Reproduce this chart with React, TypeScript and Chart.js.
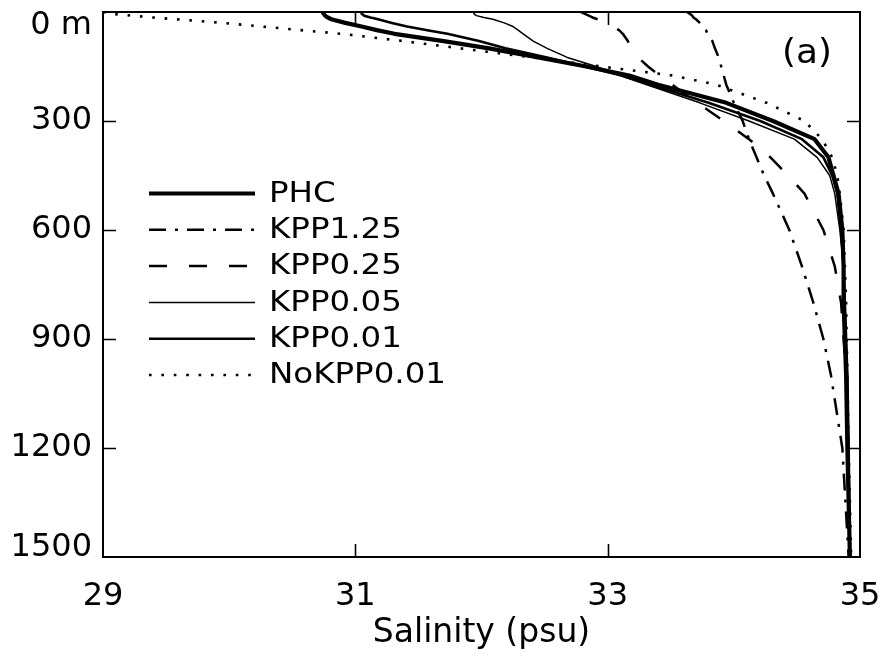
import React, { useEffect, useRef } from 'react';
import { Chart, registerables } from 'chart.js';

Chart.register(...registerables);

// ---- data (depth in m, salinity in psu) ----
const depths = [0, 5, 10, 15, 20, 30, 40, 50, 60, 80, 100, 125, 150, 175, 200, 250, 300, 350, 400, 450, 500, 600, 700, 800, 900, 1000, 1200, 1500];
const phc = [30.74, 30.75, 30.76, 30.78, 30.81, 30.92, 31.05, 31.17, 31.31, 31.70, 32.06, 32.45, 32.83, 33.17, 33.40, 33.94, 34.31, 34.64, 34.75, 34.79, 34.83, 34.86, 34.87, 34.87, 34.88, 34.89, 34.90, 34.92];
const kpp125 = [33.63, 33.65, 33.67, 33.68, 33.70, 33.73, 33.76, 33.78, 33.79, 33.83, 33.85, 33.88, 33.90, 33.92, 33.94, 34.00, 34.07, 34.12, 34.18, 34.24, 34.31, 34.44, 34.54, 34.63, 34.71, 34.77, 34.86, 34.91];
const kpp025 = [32.79, 32.82, 32.85, 32.88, 32.92, 33.00, 33.04, 33.09, 33.12, 33.16, 33.19, 33.24, 33.32, 33.41, 33.51, 33.71, 33.92, 34.12, 34.29, 34.43, 34.56, 34.71, 34.80, 34.85, 34.87, 34.89, 34.90, 34.92];
const kpp005 = [31.94, 31.94, 31.96, 32.02, 32.09, 32.18, 32.25, 32.29, 32.33, 32.41, 32.52, 32.68, 32.91, 33.10, 33.31, 33.73, 34.12, 34.48, 34.66, 34.76, 34.80, 34.84, 34.87, 34.88, 34.89, 34.90, 34.91, 34.92];
const kpp001 = [31.05, 31.05, 31.07, 31.12, 31.18, 31.29, 31.41, 31.57, 31.73, 31.98, 32.19, 32.52, 32.82, 33.11, 33.34, 33.80, 34.21, 34.54, 34.71, 34.78, 34.82, 34.85, 34.87, 34.88, 34.89, 34.90, 34.91, 34.92];
const nokpp001 = [29.0, 29.07, 29.23, 29.39, 29.58, 29.95, 30.26, 30.57, 30.89, 31.38, 31.83, 32.40, 32.95, 33.52, 33.86, 34.26, 34.56, 34.70, 34.78, 34.82, 34.84, 34.87, 34.88, 34.89, 34.895, 34.90, 34.91, 34.93];

const seriesLabels = ['PHC', 'KPP1.25', 'KPP0.25', 'KPP0.05', 'KPP0.01', 'NoKPP0.01'];
const seriesValues = [phc, kpp125, kpp025, kpp005, kpp001, nokpp001];
const xTicks = [29, 31, 33, 35];
const yTicks = [0, 300, 600, 900, 1200, 1500];
const xTitle = 'Salinity (psu)';
const panelLabel = '(a)';

// ---- styles ----
const lineStyles = [
  { width: 4.2, dash: [] as number[] },
  { width: 2.5, dash: [17, 9, 3, 9] },
  { width: 2.5, dash: [18, 22] },
  { width: 1.5, dash: [] as number[] },
  { width: 2.6, dash: [] as number[] },
  { width: 2.6, dash: [2.6, 9.8] },
];
const FONT = '"DejaVu Sans", "Liberation Sans", sans-serif';

const framePlugin = {
  id: 'frameAndLegend',
  afterDatasetsDraw(chart: any) {
    const { ctx, chartArea: a, scales } = chart;
    const xs = scales.x;
    const ys = scales.y;
    ctx.save();
    ctx.setLineDash([]);
    ctx.strokeStyle = '#000';
    ctx.lineWidth = 2;
    ctx.strokeRect(a.left, a.top, a.right - a.left, a.bottom - a.top);
    const L = 13;
    ctx.beginPath();
    yTicks.slice(1, -1).forEach((v) => {
      const py = Math.round(ys.getPixelForValue(v)) + 0.5;
      ctx.moveTo(a.left, py);
      ctx.lineTo(a.left + L, py);
      ctx.moveTo(a.right, py);
      ctx.lineTo(a.right - L, py);
    });
    xTicks.slice(1, -1).forEach((v) => {
      const px = Math.round(xs.getPixelForValue(v)) + 0.5;
      ctx.moveTo(px, a.bottom);
      ctx.lineTo(px, a.bottom - L);
      ctx.moveTo(px, a.top);
      ctx.lineTo(px, a.top + L);
    });
    ctx.lineWidth = 1.6;
    ctx.stroke();

    // legend inside plot
    const x0 = a.left + 46;
    const x1 = a.left + 152;
    const tx = a.left + 166;
    const row0 = a.top + 181.5;
    const step = 36.3;
    chart.data.datasets.forEach((ds: any, i: number) => {
      const yy = row0 + i * step;
      ctx.save();
      ctx.strokeStyle = '#000';
      ctx.lineWidth = ds.borderWidth;
      ctx.setLineDash(ds.borderDash || []);
      ctx.lineCap = 'butt';
      ctx.beginPath();
      ctx.moveTo(x0, yy);
      ctx.lineTo(x1, yy);
      ctx.stroke();
      ctx.restore();
      ctx.save();
      ctx.fillStyle = '#000';
      ctx.font = `28px ${FONT}`;
      ctx.textBaseline = 'middle';
      ctx.textAlign = 'left';
      ctx.translate(tx, yy + 1);
      ctx.scale(1.16, 1);
      ctx.fillText(ds.label, 0, 0);
      ctx.restore();
    });

    // panel label
    ctx.save();
    ctx.fillStyle = '#000';
    ctx.font = `32px ${FONT}`;
    ctx.textBaseline = 'middle';
    ctx.textAlign = 'center';
    ctx.translate(a.right - 53, a.top + 42);
    ctx.scale(1.12, 1.05);
    ctx.fillText(panelLabel, 0, 0);
    ctx.restore();
    ctx.restore();
  },
};

export default function App() {
  const ref = useRef<HTMLCanvasElement | null>(null);
  useEffect(() => {
    if (!ref.current) return;
    const chart = new Chart(ref.current, {
      type: 'scatter',
      data: {
        datasets: seriesLabels.map((label, i) => ({
          label,
          data: depths.map((d, j) => ({ x: seriesValues[i][j], y: d })),
          showLine: true,
          borderColor: '#000',
          backgroundColor: '#000',
          borderWidth: lineStyles[i].width,
          borderDash: lineStyles[i].dash,
          borderCapStyle: 'butt',
          borderJoinStyle: 'round',
          pointRadius: 0,
          pointHoverRadius: 0,
          tension: 0,
        })),
      },
      options: {
        responsive: false,
        maintainAspectRatio: false,
        animation: false,
        events: [],
        layout: { padding: { left: 0, top: 12, right: 21, bottom: 0 } },
        plugins: { legend: { display: false }, tooltip: { enabled: false } },
        scales: {
          x: {
            type: 'linear',
            position: 'bottom',
            min: 29,
            max: 35,
            afterBuildTicks: (s: any) => {
              s.ticks = xTicks.map((v) => ({ value: v }));
            },
            ticks: {
              color: '#000',
              padding: 20,
              maxRotation: 0,
              autoSkip: false,
              font: { family: FONT, size: 32, lineHeight: 1.2 },
              callback: (v: any) => String(v),
            },
            grid: { display: false, drawTicks: false },
            border: { display: false },
            title: {
              display: true,
              text: xTitle,
              color: '#000',
              font: { family: FONT, size: 33, lineHeight: 1.2 },
              padding: { top: 0, bottom: 4 },
            },
            afterFit: (s: any) => {
              s.height = 100;
              s.paddingLeft = 0;
              s.paddingRight = 0;
            },
          },
          y: {
            type: 'linear',
            min: 0,
            max: 1500,
            reverse: true,
            afterBuildTicks: (s: any) => {
              s.ticks = yTicks.map((v) => ({ value: v }));
            },
            ticks: {
              color: '#000',
              padding: 11,
              autoSkip: false,
              font: (c: any) => {
                const v = c && c.tick ? c.tick.value : null;
                const lh = v === 0 ? 0.875 : v === 1500 ? 0.5625 : 1.2;
                return { family: FONT, size: 32, lineHeight: lh };
              },
              callback: (v: any) => (v === 0 ? ['', '0 m'] : v === 1500 ? ['1500', ''] : String(v)),
            },
            grid: { display: false, drawTicks: false },
            border: { display: false },
            afterFit: (s: any) => {
              s.width = 103;
              s.paddingTop = 0;
              s.paddingBottom = 0;
            },
          },
        },
      },
      plugins: [framePlugin],
    } as any);
    return () => chart.destroy();
  }, []);

  return (
    <div style={{ position: 'absolute', left: 0, top: 0, width: 881, height: 657, background: '#fff' }}>
      <canvas ref={ref} width={881} height={657} style={{ display: 'block', width: 881, height: 657 }} />
    </div>
  );
}
